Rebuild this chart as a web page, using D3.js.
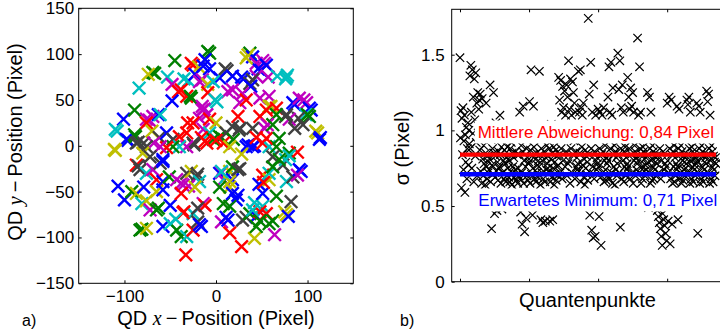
<!DOCTYPE html>
<html><head><meta charset="utf-8">
<script src="https://cdn.jsdelivr.net/npm/d3@7"></script>
<style>body{margin:0;background:#fff}svg{display:block;font-family:"Liberation Sans",Arial,Helvetica,sans-serif}</style>
</head><body><svg id="c" width="720" height="334"></svg>
<script>
// ---------- Panel a data: QD positions [x, y, colorIndex] ----------
const qdPoints = [
[-9,103,1],[-7,101,1],[37,101,1],[35,99,5],[40,97,0],[-45,93,1],[-27,90,2],[-25,88,2],
[-19,86,5],[-12,94,0],[-14,87,0],[-7,84,0],[10,84,6],[12,82,6],[4,74,0],[18,76,0],
[28,75,0],[30,73,0],[44,90,4],[51,93,4],[53,90,4],[55,88,0],[49,82,0],[46,84,0],
[44,76,4],[57,75,4],[33,96,5],[-69,80,1],[-67,79,1],[-74,78,5],[-84,63,3],[-53,75,3],
[-48,67,4],[-35,73,3],[-30,71,3],[-23,78,0],[-18,70,4],[-15,72,4],[-9,67,5],[-3,70,3],
[37,68,6],[40,72,6],[38,65,0],[67,76,3],[77,75,3],[76,73,3],[78,77,3],[13,59,4],[18,61,4],
[-38,61,2],[-41,59,2],
[-48,49,0],[-32,54,2],[-27,52,1],[-28,54,1],[-9,58,2],[-1,50,3],[1,48,3],[-15,43,4],[-13,40,4],
[29,57,4],[26,47,4],[33,50,2],[24,32,2],[58,54,4],[48,52,4],[60,43,5],[58,43,5],[66,41,2],
[55,39,2],[86,45,0],[84,47,0],[91,52,4],[96,50,4],[99,47,4],[102,41,0],[104,39,0],[98,34,3],
[102,32,1],[100,34,1],[90,30,6],[80,29,4],[76,32,6],[77,34,6],[86,19,6],[95,23,6],[109,16,5],
[111,14,5],[113,7,0],[114,9,0],[66,34,1],[48,32,2],[53,19,4],[56,23,4],[62,23,1],[-101,29,0],
[-89,39,1],[-76,29,4],[-69,32,4],[-73,28,4],[-63,34,0],[-61,34,3],[-76,25,2],[-18,30,4],
[-10,34,4],[-15,39,4],[-7,29,2],[-25,25,2],[-31,25,2],[0,25,5],[26,19,6],[25,17,6],[18,21,6],[40,19,6],
[-110,18,3],[-108,16,3],[-98,7,0],[-96,6,0],[-110,-5,5],[-111,-4,5],[-89,12,1],[-88,10,1],
[-87,3,6],[-85,4,6],[-79,3,6],[-70,16,5],[-62,9,6],[-54,14,0],[-47,7,6],[-40,10,2],[-32,14,2],
[-14,18,4],[-7,14,3],[-3,7,1],[4,10,1],[6,9,1],[-10,3,2],[-12,5,2],[-16,9,2],[-25,3,6],[-24,1,6],
[-32,-1,4],[-40,-1,3],[-47,-1,1],[-54,-2,2],[-61,-1,4],[-68,3,4],[-76,-1,6],[-80,-8,5],[-72,-12,6],
[11,14,6],[19,7,1],[8,3,2],[0,6,2],[15,-1,5],[33,-1,0],[35,1,0],[40,-1,0],[42,0,0],[44,9,2],
[51,3,2],[58,-1,3],[66,-1,1],[80,-8,1],[89,-7,2],[73,-21,6],[76,-15,3],[80,-11,3],[55,8,2],
[69,8,1],[62,-12,6],[28,-9,5],
[-87,-21,2],[-85,-22,6],[-83,-26,6],[-76,-30,3],[-69,-26,4],[-61,-19,6],[-58,-15,0],[-58,-17,0],
[-65,-37,2],[-58,-39,0],[-51,-34,1],[-43,-37,4],[-38,-41,4],[-36,-43,4],[-32,-30,6],[-27,-28,5],
[-21,-34,6],[-20,-31,6],[-30,-44,4],[-18,-39,3],[-23,-45,5],[-107,-44,0],[-100,-59,0],[-92,-50,1],
[-87,-52,5],[-81,-63,3],[-76,-60,5],[-79,-45,0],[-65,-50,5],[-58,-48,0],[-72,-70,4],[-65,-70,1],
[-63,-68,1],[-50,-65,0],[-38,-52,2],[-83,-92,1],[-81,-91,1],[-76,-90,5],[-58,-88,0],[-50,-85,3],
[-43,-92,1],[-38,-99,1],[-32,-99,3],[-33,-119,2],[-35,-72,2],[-25,-74,3],[-25,-92,2],[-20,-83,6],
[-16,-88,0],[-18,-86,0],[-14,-63,4],[-12,-65,2],[-20,-68,6],[-36,-73,2],[-44,-80,3],
[4,-30,0],[6,-29,4],[8,-37,4],[11,-34,3],[15,-28,5],[18,-23,1],[26,-25,6],[18,-37,0],[15,-39,5],
[15,-45,5],[4,-45,1],[8,-63,1],[18,-52,0],[22,-59,0],[15,-66,1],[6,-83,4],[13,-81,0],[11,-78,0],
[15,-95,2],[29,-81,6],[33,-78,6],[28,-110,2],[42,-101,5],[64,-97,4],[37,-74,1],[44,-77,0],
[51,-66,3],[55,-74,2],[48,-72,2],[58,-85,1],[44,-88,1],[48,-82,1],[62,-82,1],[40,-70,3],[42,-62,3],
[51,-52,0],[51,-32,2],[47,-42,0],[58,-37,5],[58,-30,3],[62,-23,1],[69,-15,1],[77,-39,3],[84,-34,6],
[93,-28,0],[91,-26,0],[89,-32,4],[66,-55,1],[82,-61,6],[77,-75,5],[75,-72,5],[79,-77,0],[24,-54,0],
[24,-26,6],[6,-28,3],[52,-40,2]
];
const palette = ["#0000ff","#008000","#ff0000","#00bfbf","#bf00bf","#bfbf00","#404040"];
const xTicksA = [-100, 0, 100];
const yTicksA = [-150, -100, -50, 0, 50, 100, 150];

// ---------- Panel b data: sigma per quantum dot ----------
const sigmaValues = [
1.48,0.95,1.13,0.62,1.08,0.84,1.15,0.74,0.93,1.10,0.59,0.97,0.79,1.02,0.68,0.88,1.05,0.77,1.00,0.91,
1.36,0.88,1.43,1.12,0.75,1.40,0.98,1.22,0.66,1.34,1.07,0.83,1.38,0.92,1.18,0.70,1.25,1.03,1.14,1.20,
0.87,1.24,0.73,0.95,0.65,1.21,0.81,0.70,0.90,0.78,1.02,0.64,0.85,1.18,0.76,0.68,0.83,0.72,0.79,0.74,
0.81,1.30,0.66,0.94,0.35,0.77,0.88,0.71,1.25,0.85,0.45,0.69,0.83,1.05,0.73,0.47,0.79,0.67,0.86,0.75,
0.76,1.10,0.84,0.65,0.89,0.48,0.72,0.97,0.80,0.68,0.87,0.50,0.78,0.66,0.82,0.70,0.89,0.75,0.81,0.69,
0.80,0.66,0.88,0.73,0.92,0.64,0.85,0.76,0.55,0.82,0.69,1.00,0.74,0.86,0.67,0.71,0.84,0.65,0.75,0.70,
0.84,1.12,0.68,0.46,0.90,0.72,0.38,0.86,1.16,0.65,0.80,0.33,0.95,0.76,0.42,0.88,0.70,0.82,0.67,0.78,
0.79,1.19,0.65,0.87,1.40,0.71,0.83,0.44,0.75,1.16,0.89,0.68,1.03,0.81,0.66,0.85,0.72,0.77,0.69,0.80,
0.76,1.39,0.84,0.64,0.41,0.88,0.72,0.80,0.39,0.68,0.96,0.86,0.66,0.40,0.82,0.74,0.90,0.78,0.75,0.83,
0.73,0.88,0.40,0.66,0.81,1.04,0.69,0.85,0.41,0.75,0.89,0.64,0.79,0.71,0.87,0.67,0.83,0.76,0.70,0.77,
1.35,0.84,1.20,0.72,1.33,0.88,1.12,0.68,1.29,0.80,1.15,0.99,1.26,0.76,1.10,0.86,1.30,0.70,1.22,0.78,
1.46,0.80,1.14,0.65,1.34,0.88,1.10,0.72,1.32,0.84,1.25,0.93,1.18,0.68,1.12,0.86,0.76,0.82,0.74,0.78,
1.39,0.73,1.12,0.85,1.40,0.66,1.15,0.89,1.10,0.77,1.18,0.69,0.81,0.64,0.87,0.75,0.83,0.71,0.79,0.67,
1.74,0.84,1.24,0.44,0.72,1.45,0.88,0.34,1.12,0.76,0.29,1.30,0.68,0.86,0.30,1.10,0.80,0.74,0.82,0.78,
1.14,0.76,0.43,0.88,1.12,0.69,0.24,0.84,1.10,0.72,0.86,1.15,0.66,0.80,0.90,0.74,0.67,0.82,0.78,0.70,
1.22,0.80,1.42,0.68,1.12,0.88,1.45,0.72,1.10,0.65,1.28,0.84,0.76,0.90,0.64,0.86,0.74,0.82,0.70,0.78,
1.51,0.84,1.27,0.72,1.46,0.36,0.88,1.15,0.68,1.30,0.80,1.12,0.66,0.86,0.76,0.89,0.70,0.82,0.74,0.78,
1.35,0.76,1.22,0.88,1.14,0.68,1.28,0.84,1.16,0.72,1.25,0.65,1.12,0.80,0.90,0.86,0.70,0.82,0.74,0.78,
1.61,0.80,1.10,0.72,1.42,0.88,1.12,0.65,0.84,0.76,0.68,0.89,0.86,0.73,0.81,0.70,0.77,0.82,0.74,0.78,
1.25,0.84,0.49,0.72,1.22,0.88,0.65,1.12,0.80,0.67,0.90,0.76,0.86,0.68,0.83,0.74,0.79,0.70,0.82,0.78,
0.47,0.84,0.43,0.72,0.39,0.88,0.35,0.68,0.30,0.80,0.24,0.45,0.86,0.41,0.74,0.37,0.78,0.32,0.76,0.27,
1.18,0.80,0.40,0.72,1.22,0.88,0.25,0.68,1.20,0.84,0.38,0.65,0.86,0.76,0.90,0.66,0.82,0.70,0.78,0.74,
1.16,0.76,0.41,0.88,1.14,0.68,0.84,0.72,0.90,0.65,0.86,0.80,0.67,0.83,0.74,0.79,0.70,0.82,0.75,0.78,
1.20,0.84,1.17,0.72,1.22,0.88,0.65,1.12,0.80,0.68,0.89,0.76,0.86,0.66,0.81,0.74,0.77,0.70,0.82,0.78,
1.18,0.80,0.32,0.72,1.16,0.88,0.65,1.12,0.84,0.68,0.90,0.76,0.86,0.66,0.83,0.74,0.79,0.70,0.82,0.78,
1.26,0.84,1.19,0.72,1.24,0.88,0.65,1.10,0.80,0.68,0.90,0.76,0.86,0.66,0.83,0.74,0.79,0.70,0.82,0.78
];
const xTicksB = [0, 140, 280, 420, 560];
const yTicksB = [0, 0.5, 1, 1.5];
const meanSigma = 0.84;
const minSigma = 0.71;
const meanLabel = "Mittlere Abweichung: 0,84 Pixel";
const minLabel = "Erwartetes Minimum: 0,71 Pixel";

const svg = d3.select("#c");
const cross = s => `M${-s},${-s}L${s},${s}M${-s},${s}L${s},${-s}`;
const fmt = d => String(d).replace("-", "\u2212");

// ================= Panel a =================
const A = {l:78.7, r:353.3, t:8.3, b:283.3};
const xA = d3.scaleLinear().domain([-150,150]).range([A.l, A.r]);
const yA = d3.scaleLinear().domain([-150,150]).range([A.b, A.t]);
const gA = svg.append("g");
gA.append("g").selectAll("path").data(qdPoints).join("path")
  .attr("transform", d => `translate(${xA(d[0])},${yA(d[1])})`)
  .attr("d", cross(6.3)).attr("fill","none")
  .attr("stroke", d => palette[d[2]]).attr("stroke-width", 2.4);

function styleAxis(g, size){
  g.select(".domain").remove();
  g.selectAll("line").attr("stroke","#000").attr("stroke-width",1);
  g.selectAll("text").attr("fill","#000").style("font-size", size+"px").style("font-family","'Liberation Sans',Arial,sans-serif");
}
gA.append("g").attr("transform",`translate(0,${A.b})`)
  .call(d3.axisBottom(xA).tickValues(xTicksA).tickSize(-3).tickPadding(6.6).tickFormat(fmt))
  .call(g=>styleAxis(g,17));
gA.append("g").attr("transform",`translate(0,${A.t})`)
  .call(d3.axisTop(xA).tickValues(xTicksA).tickSize(-3).tickFormat(""))
  .call(g=>styleAxis(g,17));
gA.append("g").attr("transform",`translate(${A.l},0)`)
  .call(d3.axisLeft(yA).tickValues(yTicksA).tickSize(-3).tickPadding(4.5).tickFormat(fmt))
  .call(g=>styleAxis(g,17));
gA.append("g").attr("transform",`translate(${A.r},0)`)
  .call(d3.axisRight(yA).tickValues(yTicksA).tickSize(-3).tickFormat(""))
  .call(g=>styleAxis(g,17));
gA.append("rect").attr("x",A.l).attr("y",A.t).attr("width",A.r-A.l).attr("height",A.b-A.t)
  .attr("fill","none").attr("stroke","#000").attr("stroke-width",1);

const xlabA = svg.append("text").attr("x",216).attr("y",325).attr("text-anchor","middle").style("font-size","20px");
xlabA.append("tspan").text("QD ");
xlabA.append("tspan").style("font-family","'Liberation Serif','DejaVu Serif',serif").style("font-style","italic").text("x");
xlabA.append("tspan").text("\u2009\u2212\u2009Position (Pixel)");
const ylabA = svg.append("text").attr("transform","translate(22,142) rotate(-90)").attr("text-anchor","middle").style("font-size","20px");
ylabA.append("tspan").text("QD ");
ylabA.append("tspan").style("font-family","'Liberation Serif','DejaVu Serif',serif").style("font-style","italic").text("y");
ylabA.append("tspan").text("\u2009\u2212\u2009Position (Pixel)");
svg.append("text").attr("x",22).attr("y",326).style("font-size","16px").text("a)");

// ================= Panel b =================
const B = {l:451.7, r:738.7, t:9.3, b:281.7};
const xB = d3.scaleLinear().domain([-16.8, 565]).range([B.l, B.r]);
const yB = d3.scaleLinear().domain([0, 1.8]).range([B.b, B.t]);
svg.append("defs").append("clipPath").attr("id","clipB").append("rect")
  .attr("x",B.l).attr("y",B.t).attr("width",B.r-B.l).attr("height",B.b-B.t);
const gB = svg.append("g");
const plotB = gB.append("g").attr("clip-path","url(#clipB)");
plotB.append("g").selectAll("path").data(sigmaValues).join("path")
  .attr("transform", (d,i) => `translate(${xB(i)},${yB(d)})`)
  .attr("d", cross(4.2)).attr("fill","none").attr("stroke","#000").attr("stroke-width",1.2);

const lastIdx = sigmaValues.length - 1;
plotB.append("line").attr("x1",xB(0)).attr("x2",xB(lastIdx)).attr("y1",yB(meanSigma)).attr("y2",yB(meanSigma))
  .attr("stroke","#ff0000").attr("stroke-width",4.3);
plotB.append("line").attr("x1",xB(0)).attr("x2",xB(lastIdx)).attr("y1",yB(minSigma)).attr("y2",yB(minSigma))
  .attr("stroke","#0000ff").attr("stroke-width",4.3);

function boxedLabel(txt, color, x, baseline){
  const g = plotB.append("g");
  const r = g.append("rect").attr("fill","#fff");
  const t = g.append("text").attr("x",x).attr("y",baseline).attr("fill",color).style("font-size","17px").text(txt);
  const bb = t.node().getBBox();
  r.attr("x",bb.x-3).attr("y",bb.y-2).attr("width",bb.width+6).attr("height",bb.height+4);
}
boxedLabel(meanLabel, "#ff0000", 477.7, 137.5);
boxedLabel(minLabel, "#0000ff", 478.3, 205.5);

gB.append("g").attr("transform",`translate(0,${B.b})`)
  .call(d3.axisBottom(xB).tickValues(xTicksB).tickSize(-3).tickFormat(""))
  .call(g=>styleAxis(g,17));
gB.append("g").attr("transform",`translate(0,${B.t})`)
  .call(d3.axisTop(xB).tickValues(xTicksB).tickSize(-3).tickFormat(""))
  .call(g=>styleAxis(g,17));
gB.append("g").attr("transform",`translate(${B.l},0)`)
  .call(d3.axisLeft(yB).tickValues(yTicksB).tickSize(-3).tickPadding(7).tickFormat(d=>String(d)))
  .call(g=>styleAxis(g,17));
gB.append("rect").attr("x",B.l).attr("y",B.t).attr("width",B.r-B.l).attr("height",B.b-B.t)
  .attr("fill","none").attr("stroke","#000").attr("stroke-width",1);

svg.append("text").attr("x",587.5).attr("y",307).attr("text-anchor","middle").style("font-size","20px").text("Quantenpunkte");
svg.append("text").attr("transform","translate(409,148) rotate(-90)").attr("text-anchor","middle").style("font-size","20px").text("\u03c3 (Pixel)");
svg.append("text").attr("x",400).attr("y",326).style("font-size","16px").text("b)");
</script></body></html>
